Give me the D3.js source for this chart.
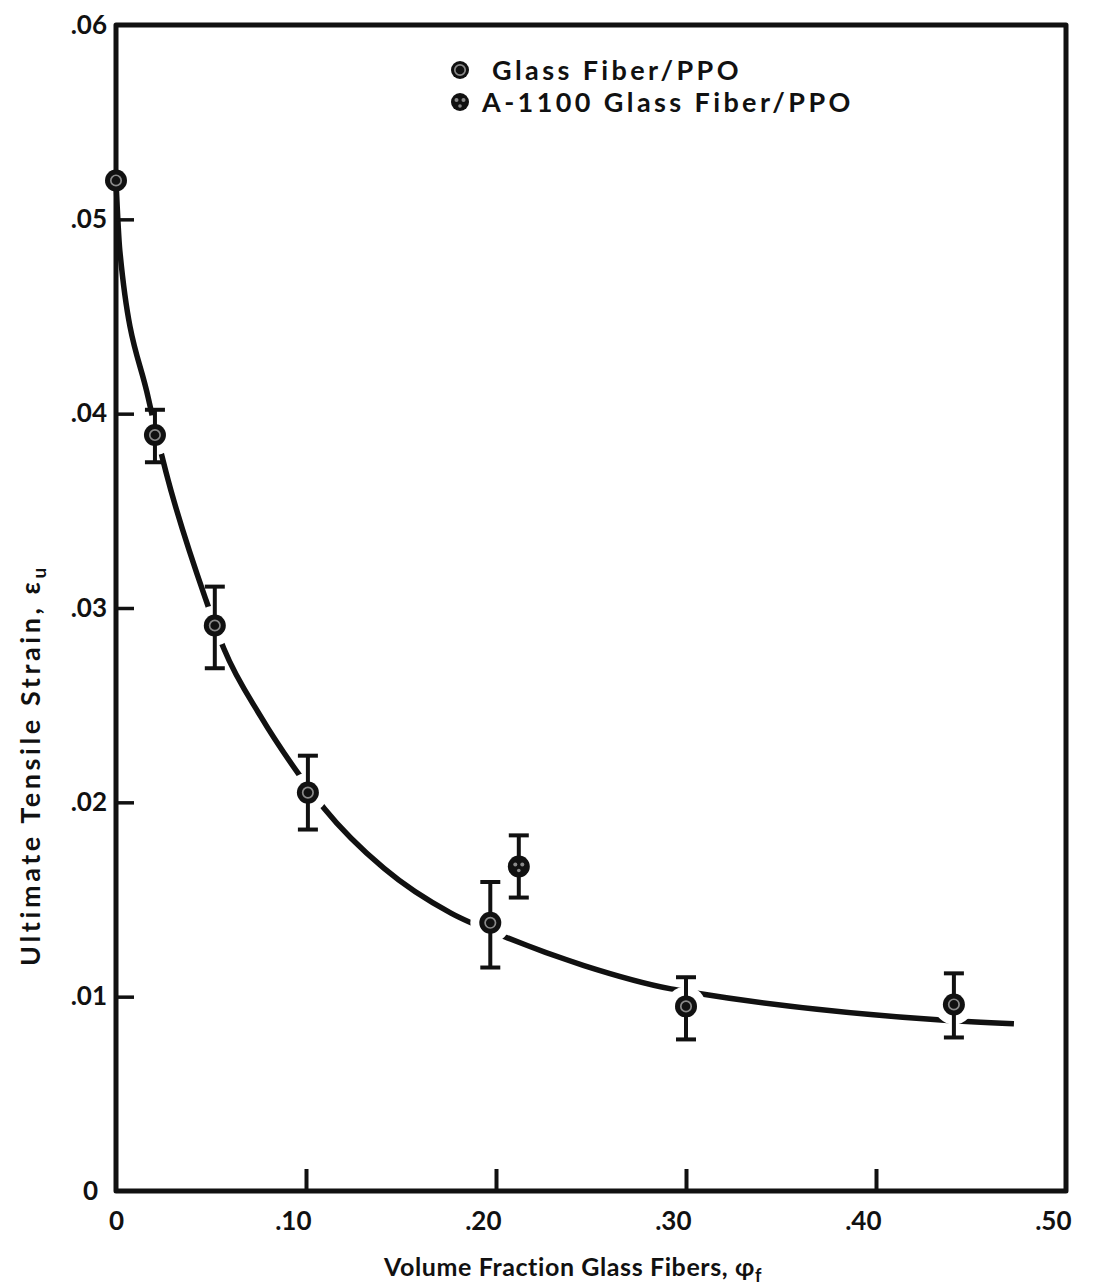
<!DOCTYPE html>
<html><head><meta charset="utf-8">
<script src="https://cdn.jsdelivr.net/npm/d3@7"></script>
<style>
body{margin:0;background:#fff;}
text{font-family:"Lato","Open Sans",sans-serif;font-weight:700;fill:#111;}
</style></head>
<body>
<svg id="chart" width="1100" height="1288"></svg>
<script>
// ---- data ----
const glassX   = [0, 0.0205, 0.052, 0.101, 0.197, 0.300, 0.441];
const glassY   = [0.0520, 0.0389, 0.0291, 0.0205, 0.0138, 0.0095, 0.0096];
const glassLo  = [null, 0.0375, 0.0269, 0.0186, 0.0115, 0.0078, 0.0079];
const glassHi  = [null, 0.0402, 0.0311, 0.0224, 0.0159, 0.0110, 0.0112];
const a1100X   = [0.212];
const a1100Y   = [0.0167];
const a1100Lo  = [0.0151];
const a1100Hi  = [0.0183];
const curveX = [0, 0.002, 0.0170, 0.0263, 0.0474, 0.0568, 0.0763, 0.0958, 0.1095, 0.1411, 0.1763, 0.2042, 0.2463, 0.2921, 0.3042, 0.4342, 0.4726];
const curveY = [0.0520, 0.0484, 0.0408, 0.0370, 0.0304, 0.0279, 0.0244, 0.0215, 0.0197, 0.0166, 0.0143, 0.0131, 0.0116, 0.0104, 0.0102, 0.0088, 0.0086];
const xTicks = [0, 0.1, 0.2, 0.3, 0.4, 0.5];
const xTickLabels = ["0", ".10", ".20", ".30", ".40", ".50"];
const yTicks = [0, 0.01, 0.02, 0.03, 0.04, 0.05, 0.06];
const yTickLabels = ["0", ".01", ".02", ".03", ".04", ".05", ".06"];
const legendLabels = ["Glass Fiber/PPO", "A-1100 Glass Fiber/PPO"];

const svg = d3.select("#chart");
const x = d3.scaleLinear().domain([0, 0.5]).range([116, 1066]);
const y = d3.scaleLinear().domain([0, 0.06]).range([1191, 25]);

// curve
const line = d3.line().x(d => x(d[0])).y(d => y(d[1])).curve(d3.curveMonotoneX);
svg.append("path")
  .datum(curveX.map((v, i) => [v, curveY[i]]))
  .attr("d", line).attr("fill", "none").attr("stroke", "#111")
  .attr("stroke-width", 5.5).attr("stroke-linecap", "butt");

const glass = glassX.map((v, i) => ({x: v, y: glassY[i], lo: glassLo[i], hi: glassHi[i], type: 0}));
const a1100 = a1100X.map((v, i) => ({x: v, y: a1100Y[i], lo: a1100Lo[i], hi: a1100Hi[i], type: 1}));
const pts = glass.concat(a1100);

// white halos (gaps in curve around markers)
svg.selectAll("circle.halo").data(pts.filter(d => d.x > 0)).join("circle")
  .attr("class", "halo").attr("cx", d => x(d.x)).attr("cy", d => y(d.y))
  .attr("r", 20).attr("fill", "#fff");

// frame
const fr = svg.append("g").attr("stroke", "#111").attr("fill", "none").attr("stroke-width", 5);
fr.append("rect").attr("x", x(0)).attr("y", y(0.06)).attr("width", x(0.5) - x(0)).attr("height", y(0) - y(0.06))
  .attr("stroke-linejoin", "round");

// axes
const xAxis = d3.axisBottom(x).tickValues(xTicks).tickSize(-22).tickPadding(21)
  .tickFormat((d, i) => xTickLabels[i]);
const gx = svg.append("g").attr("transform", `translate(0,${y(0)})`).call(xAxis);
gx.select(".domain").remove();
gx.selectAll(".tick line").attr("stroke", "#111").attr("stroke-width", 4)
  .attr("display", (d, i) => (i === 0 || i === xTicks.length - 1) ? "none" : null);
gx.selectAll(".tick text").attr("font-size", 26).attr("fill", "#111")
  .attr("text-anchor", (d, i) => i === 0 ? "middle" : "end")
  .attr("dx", (d, i) => i === 0 ? 0 : 5)
  .attr("font-family", "Lato, sans-serif").attr("font-weight", 700);

const yAxis = d3.axisLeft(y).tickValues(yTicks).tickSize(-18).tickPadding(9)
  .tickFormat((d, i) => yTickLabels[i]);
const gy = svg.append("g").attr("transform", `translate(${x(0)},0)`).call(yAxis);
gy.select(".domain").remove();
gy.selectAll(".tick line").attr("stroke", "#111").attr("stroke-width", 3.5)
  .attr("display", (d, i) => (i === 0 || i === yTicks.length - 1) ? "none" : null);
gy.selectAll(".tick text").attr("font-size", 26).attr("fill", "#111")
  .attr("dx", (d, i) => i === 0 ? -9 : 0)
  .attr("font-family", "Lato, sans-serif").attr("font-weight", 700);

// error bars
const eb = svg.append("g").attr("stroke", "#111").attr("stroke-width", 4);
const withErr = pts.filter(d => d.lo != null);
eb.selectAll("line.v").data(withErr).join("line").attr("class", "v")
  .attr("x1", d => x(d.x)).attr("x2", d => x(d.x)).attr("y1", d => y(d.lo)).attr("y2", d => y(d.hi));
eb.selectAll("line.c1").data(withErr).join("line").attr("class", "c1")
  .attr("x1", d => x(d.x) - 10).attr("x2", d => x(d.x) + 10).attr("y1", d => y(d.lo)).attr("y2", d => y(d.lo));
eb.selectAll("line.c2").data(withErr).join("line").attr("class", "c2")
  .attr("x1", d => x(d.x) - 10).attr("x2", d => x(d.x) + 10).attr("y1", d => y(d.hi)).attr("y2", d => y(d.hi));

function drawMarker(g, type) {
  g.append("circle").attr("r", 11).attr("fill", "#111");
  if (type === 0) {
    g.append("circle").attr("r", 5.2).attr("fill", "none").attr("stroke", "#8a8a8a").attr("stroke-width", 1.7);
  } else {
    g.append("circle").attr("cx", -3.5).attr("cy", -2).attr("r", 2).attr("fill", "#8a8a8a");
    g.append("circle").attr("cx", 3.5).attr("cy", -2).attr("r", 2).attr("fill", "#8a8a8a");
    g.append("circle").attr("cx", 0).attr("cy", 4).attr("r", 1.8).attr("fill", "#8a8a8a");
  }
}
svg.selectAll("g.mk").data(pts).join("g").attr("class", "mk")
  .attr("transform", d => `translate(${x(d.x)},${y(d.y)})`)
  .each(function(d) { drawMarker(d3.select(this), d.type); });

// legend
const lg = svg.append("g");
legendLabels.forEach((lab, i) => {
  const g = lg.append("g").attr("transform", `translate(460,${70 + i * 32})`);
  drawMarker(g, i);
  g.select("circle").attr("r", 9);
  g.append("text").attr("x", i === 0 ? 32 : 22).attr("y", 10).attr("font-size", 27)
    .attr("letter-spacing", 3.4).text(lab);
});

// axis titles
const xt = svg.append("text").attr("x", 573).attr("y", 1276).attr("text-anchor", "middle")
  .attr("font-size", 25).attr("letter-spacing", 0.6);
xt.append("tspan").text("Volume Fraction Glass Fibers, ");
xt.append("tspan").text("φ");
xt.append("tspan").attr("font-size", 18).attr("dy", 6).text("f");

const yt = svg.append("text").attr("transform", "translate(40,765) rotate(-90)").attr("text-anchor", "middle")
  .attr("font-size", 27).attr("letter-spacing", 3.6);
yt.append("tspan").text("Ultimate Tensile Strain, ");
yt.append("tspan").text("ε");
yt.append("tspan").attr("font-size", 19).attr("dy", 6).text("u");
</script>
</body></html>
